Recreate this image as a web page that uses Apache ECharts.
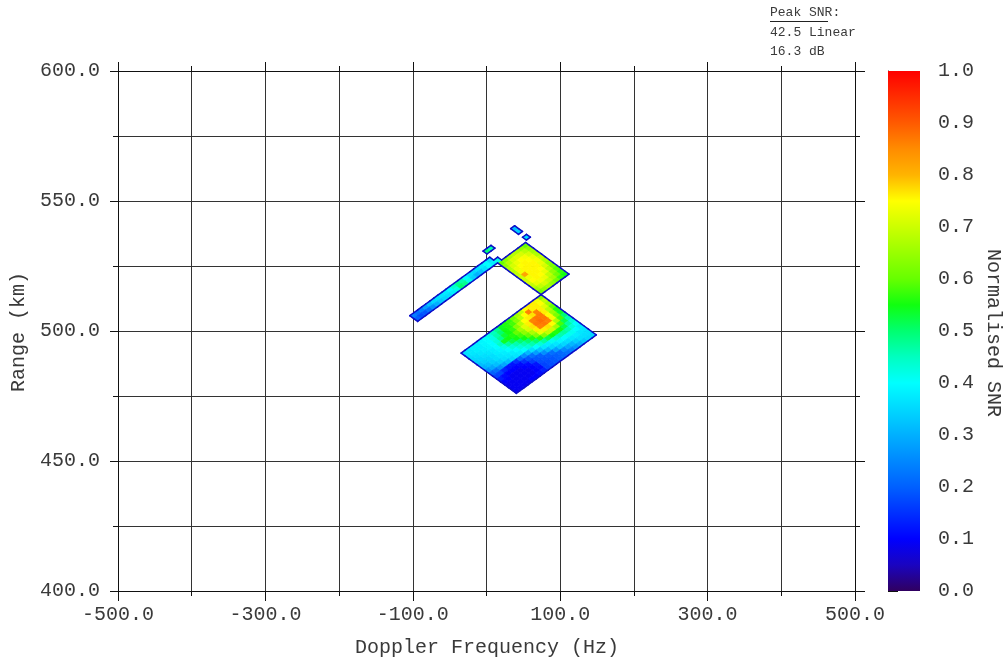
<!DOCTYPE html>
<html>
<head>
<meta charset="utf-8">
<script src="https://cdn.jsdelivr.net/npm/echarts@6/dist/echarts.min.js"></script>
<style>
  html, body { margin: 0; padding: 0; background: #ffffff; }
  #chart { width: 1006px; height: 658px; }
</style>
</head>
<body>
<div id="chart"></div>
<script>
// ---- Axis extents ----
const dopplerExtent = [-500, 500];   // Hz
const rangeExtent = [400, 600];      // km
const snrExtent = [0, 1];

// ---- Peak SNR annotation ----
const peakSnrLinear = 42.5;
const peakSnrDb = 16.3;

// ---- Range-Doppler cell geometry (Hz, km) ----
// a cell (u, v) has its corner at cellOrigin + u*stepU + v*stepV
const cellOrigin = [-34.5, 491.5];
const stepU = [5.357, -1.107];
const stepV = [5.425, 1.125];

// ---- Normalised SNR patches: rows run along u, columns along v ----
const mainPatchOrigin = [0, 0];
const mainPatch = [
  [0.36,0.37,0.38,0.38,0.39,0.40,0.42,0.45,0.48,0.54,0.56,0.57,0.61,0.66,0.69,0.75,0.76,0.76,0.74,0.64],
  [0.36,0.37,0.38,0.38,0.39,0.40,0.42,0.46,0.50,0.55,0.56,0.58,0.63,0.68,0.75,0.86,0.76,0.76,0.75,0.69],
  [0.35,0.36,0.37,0.38,0.39,0.40,0.43,0.48,0.53,0.55,0.57,0.63,0.68,0.75,0.76,0.77,0.86,0.76,0.72,0.66],
  [0.34,0.35,0.36,0.37,0.38,0.40,0.45,0.54,0.55,0.56,0.60,0.66,0.72,0.76,0.86,0.87,0.87,0.76,0.68,0.60],
  [0.32,0.34,0.35,0.36,0.38,0.39,0.42,0.47,0.52,0.55,0.58,0.64,0.71,0.77,0.87,0.88,0.87,0.75,0.65,0.56],
  [0.30,0.32,0.34,0.36,0.37,0.38,0.40,0.43,0.46,0.50,0.55,0.60,0.67,0.76,0.86,0.87,0.86,0.74,0.62,0.54],
  [0.26,0.29,0.32,0.34,0.36,0.37,0.38,0.40,0.43,0.46,0.50,0.56,0.63,0.73,0.76,0.77,0.75,0.67,0.58,0.50],
  [0.20,0.22,0.26,0.29,0.32,0.35,0.37,0.38,0.40,0.43,0.46,0.50,0.56,0.63,0.69,0.70,0.66,0.58,0.52,0.46],
  [0.17,0.17,0.14,0.12,0.12,0.15,0.21,0.26,0.31,0.36,0.40,0.43,0.47,0.52,0.55,0.56,0.55,0.52,0.47,0.43],
  [0.13,0.11,0.10,0.10,0.10,0.11,0.15,0.19,0.22,0.28,0.33,0.37,0.38,0.41,0.44,0.46,0.47,0.46,0.43,0.40],
  [0.10,0.10,0.09,0.09,0.09,0.10,0.11,0.16,0.19,0.20,0.26,0.31,0.35,0.37,0.39,0.40,0.41,0.41,0.40,0.38],
  [0.09,0.09,0.09,0.09,0.09,0.09,0.10,0.12,0.18,0.19,0.20,0.22,0.28,0.33,0.35,0.36,0.37,0.38,0.37,0.37],
  [0.09,0.09,0.09,0.09,0.09,0.09,0.10,0.11,0.17,0.18,0.19,0.20,0.21,0.25,0.29,0.31,0.34,0.36,0.36,0.36],
  [0.09,0.09,0.09,0.09,0.10,0.10,0.11,0.13,0.17,0.18,0.19,0.20,0.21,0.22,0.24,0.27,0.30,0.33,0.35,0.35]
];

const upperPatchOrigin = [-11, 20];
const upperPatch = [
  [0.60,0.64,0.67,0.68,0.67,0.64,0.60],
  [0.64,0.68,0.71,0.72,0.71,0.68,0.64],
  [0.67,0.71,0.73,0.75,0.74,0.71,0.66],
  [0.68,0.73,0.75,0.755,0.75,0.73,0.67],
  [0.69,0.74,0.755,0.755,0.755,0.74,0.69],
  [0.70,0.82,0.755,0.755,0.755,0.73,0.67],
  [0.70,0.74,0.755,0.755,0.75,0.71,0.64],
  [0.71,0.75,0.755,0.75,0.73,0.68,0.62],
  [0.69,0.73,0.74,0.73,0.69,0.64,0.59],
  [0.66,0.69,0.71,0.69,0.66,0.61,0.57],
  [0.61,0.64,0.66,0.64,0.61,0.57,0.55]
];

const streakOrigin = [-13, 0];
const streak = [
  [0.24,0.22,0.24,0.28,0.32,0.35,0.36,0.37,0.38,0.40,0.44,0.48,0.46,0.40,0.36,0.35,0.36,0.38,0.40,0.36,null],
  [0.20,0.18,0.19,0.22,0.26,0.30,0.33,0.35,0.36,0.38,0.42,0.50,0.48,0.42,0.34,0.30,0.32,0.36,0.40,0.38,0.42]
];

const blobOrigin = [-14.9, 20.2];
const blob = [[0.50, 0.46]];

const speckOrigin = [-15.3, 27.5];
const specks = [[0.32], [0.34], [null], [0.36]];

// ---- Colour scale (0.00 .. 1.00 in steps of 0.05) ----
const snrPalette = [
  '#300060', '#1a04c0', '#0000ff', '#0030ff', '#0060ff', '#0088ff', '#00b0ff',
  '#00d8ff', '#00ffff', '#00ffc0', '#00ff70', '#10ff10', '#66ff00', '#99ff00',
  '#ccff00', '#ffff00', '#ffb400', '#ff8c00', '#ff5a00', '#ff2d00', '#ff0000'
];

// ---- Build cells and patch outlines ----
const gridCorner = (u, v) => [
  cellOrigin[0] + u * stepU[0] + v * stepV[0],
  cellOrigin[1] + u * stepU[1] + v * stepV[1]
];
const cellKey = (u, v) => Math.round(u * 100) + ',' + Math.round(v * 100);

const patches = [
  { origin: mainPatchOrigin, values: mainPatch },
  { origin: upperPatchOrigin, values: upperPatch },
  { origin: streakOrigin, values: streak },
  { origin: blobOrigin, values: blob },
  { origin: speckOrigin, values: specks }
];

const cells = [];
const occupied = new Set();
patches.forEach(p => p.values.forEach((row, i) => row.forEach((val, j) => {
  if (val == null) return;
  const u = p.origin[0] + i, v = p.origin[1] + j;
  occupied.add(cellKey(u, v));
  const c = gridCorner(u + 0.5, v + 0.5);
  cells.push([c[0], c[1], val, u, v]);
})));

const edges = [];
cells.forEach(cell => {
  const u = cell[3], v = cell[4];
  if (!occupied.has(cellKey(u - 1, v))) edges.push([...gridCorner(u, v), ...gridCorner(u, v + 1)]);
  if (!occupied.has(cellKey(u + 1, v))) edges.push([...gridCorner(u + 1, v), ...gridCorner(u + 1, v + 1)]);
  if (!occupied.has(cellKey(u, v - 1))) edges.push([...gridCorner(u, v), ...gridCorner(u + 1, v)]);
  if (!occupied.has(cellKey(u, v + 1))) edges.push([...gridCorner(u, v + 1), ...gridCorner(u + 1, v + 1)]);
});

// ---- Chart ----
const FONT = 'Liberation Mono';
const TEXT_COLOR = '#3a3a3a';
const LINE = '#111111';
const GRIDLINE = '#333333';

const chart = echarts.init(document.getElementById('chart'), null, { renderer: 'canvas' });

const tickLabel = { fontFamily: FONT, fontSize: 20, color: TEXT_COLOR };

chart.setOption({
  animation: false,
  backgroundColor: '#ffffff',
  grid: [
    { left: 118, top: 71, width: 737, height: 520 },
    { left: 888, top: 71, width: 32, height: 520 }
  ],
  xAxis: [
    {
      gridIndex: 0, type: 'value', position: 'bottom',
      min: dopplerExtent[0], max: dopplerExtent[1], interval: 200,
      axisLine: { show: true, onZero: false, lineStyle: { color: LINE, width: 1 } },
      axisTick: { show: true, inside: false, length: 10, lineStyle: { color: LINE } },
      minorTick: { show: true, splitNumber: 2, length: 5, lineStyle: { color: LINE } },
      axisLabel: Object.assign({ margin: 14, formatter: v => v.toFixed(1) }, tickLabel),
      splitLine: { show: true, lineStyle: { color: GRIDLINE, width: 1 } },
      minorSplitLine: { show: true, lineStyle: { color: GRIDLINE, width: 1 } }
    },
    {
      gridIndex: 0, type: 'value', position: 'top',
      min: dopplerExtent[0], max: dopplerExtent[1], interval: 200,
      axisLine: { show: true, onZero: false, lineStyle: { color: LINE, width: 1 } },
      axisTick: { show: true, inside: false, length: 9, lineStyle: { color: LINE } },
      minorTick: { show: true, splitNumber: 2, length: 5, lineStyle: { color: LINE } },
      axisLabel: { show: false },
      splitLine: { show: false }
    },
    {
      gridIndex: 1, type: 'value', min: 0, max: 1, show: false
    }
  ],
  yAxis: [
    {
      gridIndex: 0, type: 'value', position: 'left',
      min: rangeExtent[0], max: rangeExtent[1], interval: 50,
      axisLine: { show: true, onZero: false, lineStyle: { color: LINE, width: 1 } },
      axisTick: { show: true, inside: false, length: 8, lineStyle: { color: LINE } },
      minorTick: { show: true, splitNumber: 2, length: 5, lineStyle: { color: LINE } },
      axisLabel: Object.assign({ margin: 18, formatter: v => v.toFixed(1) }, tickLabel),
      splitLine: { show: true, lineStyle: { color: GRIDLINE, width: 1 } },
      minorSplitLine: { show: true, lineStyle: { color: GRIDLINE, width: 1 } }
    },
    {
      gridIndex: 0, type: 'value', position: 'right',
      min: rangeExtent[0], max: rangeExtent[1], interval: 50,
      axisLine: { show: true, onZero: false, lineStyle: { color: LINE, width: 1 } },
      axisTick: { show: true, inside: false, length: 10, lineStyle: { color: LINE } },
      minorTick: { show: true, splitNumber: 2, length: 5, lineStyle: { color: LINE } },
      axisLabel: { show: false },
      splitLine: { show: false }
    },
    {
      gridIndex: 1, type: 'value', position: 'right',
      min: snrExtent[0], max: snrExtent[1], interval: 0.1,
      axisLine: { show: true, lineStyle: { color: LINE, width: 1 } },
      axisTick: { show: true, inside: false, length: 10, lineStyle: { color: LINE } },
      minorTick: { show: true, splitNumber: 2, length: 6, lineStyle: { color: LINE } },
      axisLabel: Object.assign({ margin: 18, formatter: v => v.toFixed(1) }, tickLabel),
      splitLine: { show: false }
    }
  ],
  visualMap: {
    type: 'continuous', show: false, seriesIndex: 0, dimension: 2,
    min: snrExtent[0], max: snrExtent[1],
    inRange: { color: snrPalette }
  },
  series: [
    {
      // SNR cells
      type: 'custom', xAxisIndex: 0, yAxisIndex: 0, silent: true,
      encode: { x: 0, y: 1 },
      data: cells,
      renderItem(params, api) {
        const u = api.value(3), v = api.value(4);
        const pts = [[u, v], [u + 1, v], [u + 1, v + 1], [u, v + 1]]
          .map(([a, b]) => api.coord(gridCorner(a, b)));
        const color = api.visual('color');
        return {
          type: 'polygon',
          shape: { points: pts },
          style: { fill: color, stroke: color, lineWidth: 0.8 }
        };
      }
    },
    {
      // patch outlines
      type: 'custom', xAxisIndex: 0, yAxisIndex: 0, silent: true,
      encode: { x: [0, 2], y: [1, 3] },
      data: edges,
      renderItem(params, api) {
        const p1 = api.coord([api.value(0), api.value(1)]);
        const p2 = api.coord([api.value(2), api.value(3)]);
        return {
          type: 'line',
          shape: { x1: p1[0], y1: p1[1], x2: p2[0], y2: p2[1] },
          style: { stroke: '#0c0cc8', lineWidth: 1.5, lineCap: 'round' }
        };
      }
    },
    {
      // colour bar
      type: 'custom', xAxisIndex: 2, yAxisIndex: 2, silent: true,
      encode: { x: 0, y: 1 },
      data: [[0, 0]],
      renderItem(params, api) {
        const tl = api.coord([0, snrExtent[1]]);
        const br = api.coord([1, snrExtent[0]]);
        return {
          type: 'rect',
          shape: { x: tl[0], y: tl[1], width: br[0] - tl[0], height: br[1] - tl[1] },
          style: {
            fill: new echarts.graphic.LinearGradient(0, 1, 0, 0,
              snrPalette.map((c, i) => ({ offset: i / (snrPalette.length - 1), color: c })))
          }
        };
      }
    }
  ],
  graphic: [
    {
      type: 'text', x: 770, y: 13,
      style: { text: 'Peak SNR:', fontFamily: FONT, fontSize: 13, fill: TEXT_COLOR,
               textAlign: 'left', textVerticalAlign: 'middle' }
    },
    {
      type: 'line', shape: { x1: 770, y1: 21.5, x2: 828, y2: 21.5 },
      style: { stroke: '#222', lineWidth: 1 }
    },
    {
      type: 'text', x: 770, y: 33,
      style: { text: peakSnrLinear.toFixed(1) + ' Linear', fontFamily: FONT, fontSize: 13,
               fill: TEXT_COLOR, textAlign: 'left', textVerticalAlign: 'middle' }
    },
    {
      type: 'text', x: 770, y: 52,
      style: { text: peakSnrDb.toFixed(1) + ' dB', fontFamily: FONT, fontSize: 13,
               fill: TEXT_COLOR, textAlign: 'left', textVerticalAlign: 'middle' }
    },
    {
      type: 'text', x: 487, y: 648,
      style: { text: 'Doppler Frequency (Hz)', fontFamily: FONT, fontSize: 20, fill: TEXT_COLOR,
               textAlign: 'center', textVerticalAlign: 'middle' }
    },
    {
      type: 'text', x: 19, y: 332, rotation: Math.PI / 2,
      style: { text: 'Range (km)', fontFamily: FONT, fontSize: 20, fill: TEXT_COLOR,
               textAlign: 'center', textVerticalAlign: 'middle' }
    },
    {
      type: 'text', x: 993, y: 333, rotation: -Math.PI / 2,
      style: { text: 'Normalised SNR', fontFamily: FONT, fontSize: 20, fill: TEXT_COLOR,
               textAlign: 'center', textVerticalAlign: 'middle' }
    }
  ]
});
</script>
</body>
</html>
